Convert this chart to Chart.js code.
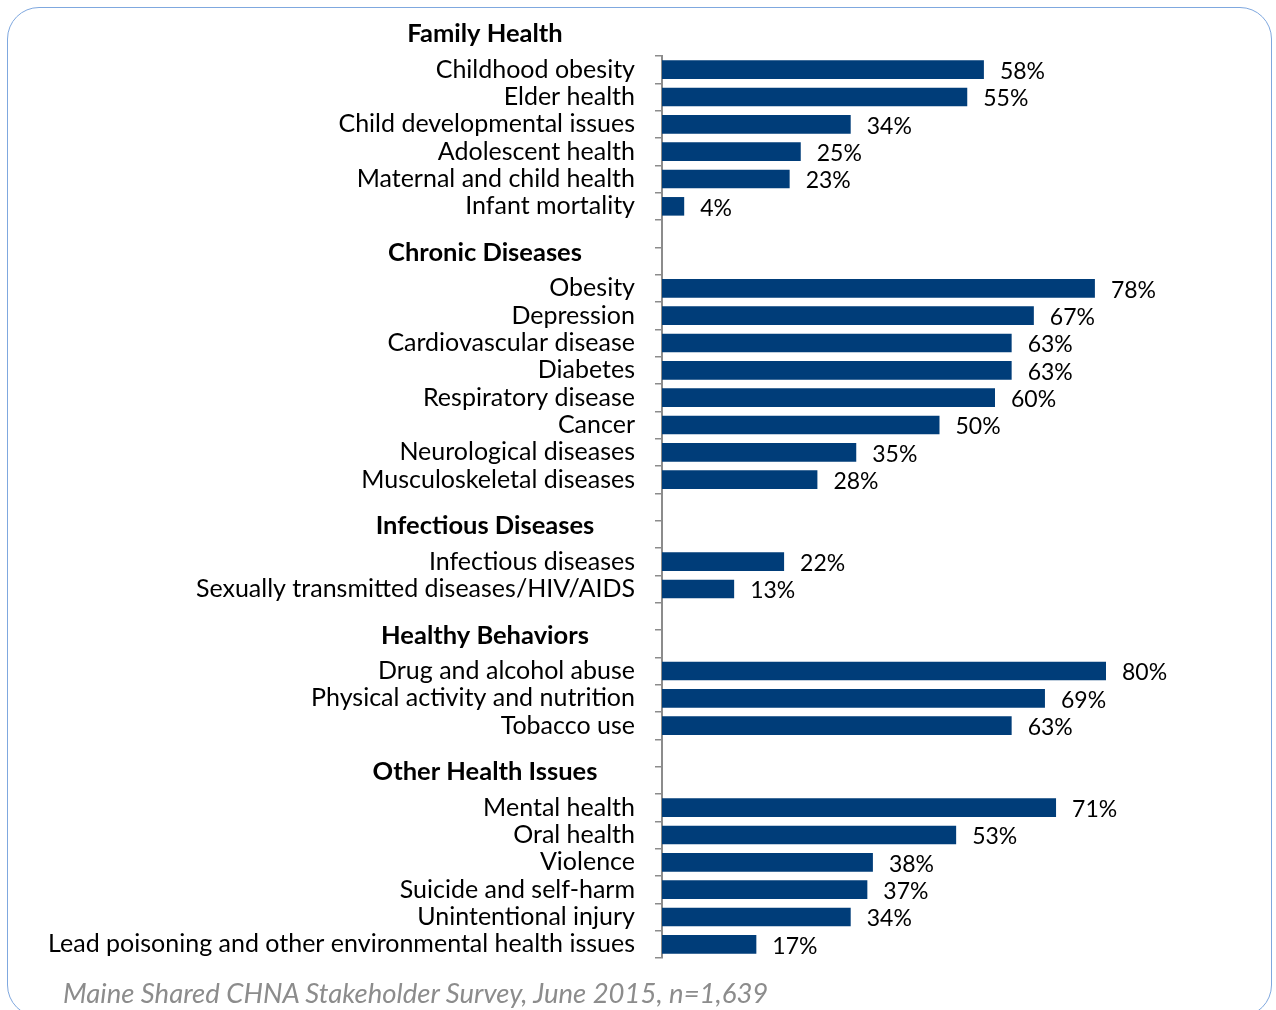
<!DOCTYPE html>
<html>
<head>
<meta charset="utf-8">
<script src="https://cdn.jsdelivr.net/npm/chart.js@4.4.1/dist/chart.umd.min.js"></script>
<style>
  html, body { margin: 0; padding: 0; background: #fff; }
  body { width: 1276px; height: 1010px; position: relative; overflow: hidden; }
  #frame {
    position: absolute; left: 7px; top: 7px; width: 1265px; height: 1010px;
    border: 1.5px solid #7fa8df; border-radius: 32px; box-sizing: border-box;
  }
  #wrap { position: absolute; left: 0; top: 0; width: 1276px; height: 1010px; }
  #source {
    position: absolute; left: 63px; top: 976px;
    font-family: Lato, sans-serif; font-style: italic; font-size: 27.5px; color: #8c8c8c;
    white-space: nowrap;
  }
</style>
</head>
<body>
<div id="frame"></div>
<div id="wrap"><canvas id="myChart" width="1276" height="1010"></canvas></div>
<div id="source">Maine Shared CHNA Stakeholder Survey, June 2015, n=1,639</div>
<script>
const groupNames = ["Family Health", "Chronic Diseases", "Infectious Diseases", "Healthy Behaviors", "Other Health Issues"];

const familyLabels = ["Childhood obesity", "Elder health", "Child developmental issues", "Adolescent health", "Maternal and child health", "Infant mortality"];
const familyValues = [58, 55, 34, 25, 23, 4];

const chronicLabels = ["Obesity", "Depression", "Cardiovascular disease", "Diabetes", "Respiratory disease", "Cancer", "Neurological diseases", "Musculoskeletal diseases"];
const chronicValues = [78, 67, 63, 63, 60, 50, 35, 28];

const infectiousLabels = ["Infectious diseases", "Sexually transmitted diseases/HIV/AIDS"];
const infectiousValues = [22, 13];

const behaviorLabels = ["Drug and alcohol abuse", "Physical activity and nutrition", "Tobacco use"];
const behaviorValues = [80, 69, 63];

const otherLabels = ["Mental health", "Oral health", "Violence", "Suicide and self-harm", "Unintentional injury", "Lead poisoning and other environmental health issues"];
const otherValues = [71, 53, 38, 37, 34, 17];

const groupLabels = [familyLabels, chronicLabels, infectiousLabels, behaviorLabels, otherLabels];
const groupValues = [familyValues, chronicValues, infectiousValues, behaviorValues, otherValues];

// flatten groups, two empty rows between groups for the headings
const labels = [];
const values = [];
const groupStart = [];
groupLabels.forEach((g, i) => {
  if (i > 0) {
    labels.push("", "");
    values.push(null, null);
  }
  groupStart.push(labels.length);
  g.forEach((l, j) => {
    labels.push(l);
    values.push(groupValues[i][j]);
  });
});

const FONT = "Lato, sans-serif";

const annotate = {
  id: "annotate",
  afterDatasetsDraw(chart) {
    const ctx = chart.ctx;
    const meta = chart.getDatasetMeta(0);
    ctx.save();
    ctx.font = "23px " + FONT;
    ctx.fillStyle = "#000";
    ctx.textBaseline = "middle";
    ctx.textAlign = "left";
    meta.data.forEach((bar, i) => {
      if (values[i] == null) return;
      ctx.fillText(values[i] + "%", bar.x + 16, bar.y + 2);
    });
    const y = chart.scales.y;
    const pitch = y.getPixelForValue(1) - y.getPixelForValue(0);
    ctx.font = "bold 25.5px " + FONT;
    ctx.textAlign = "center";
    groupNames.forEach((name, i) => {
      const py = y.getPixelForValue(groupStart[i]) - 1.3 * pitch;
      ctx.fillText(name, y.right - 177, py);
    });
    ctx.restore();
  }
};

const ctx = document.getElementById("myChart").getContext("2d");
const myChart = new Chart(ctx, {
  type: "bar",
  data: {
    labels,
    datasets: [{
      data: values,
      backgroundColor: "#003d79",
      borderWidth: 0,
      barPercentage: 0.68,
      categoryPercentage: 1,
    }],
  },
  options: {
    indexAxis: "y",
    responsive: false,
    animation: false,
    layout: { padding: { left: 0, right: 59, top: 56, bottom: 52 } },
    plugins: { legend: { display: false }, tooltip: { enabled: false } },
    scales: {
      x: { display: false, min: 0, max: 100 },
      y: {
        afterFit(scale) { scale.width = 662; },
        border: { display: true, color: "#8c8c8c", width: 2 },
        grid: { offset: true, drawOnChartArea: false, tickLength: 7, color: "#8c8c8c", lineWidth: 1.5 },
        ticks: { color: "#000", padding: 20, autoSkip: false, font: { family: FONT, size: 25 } },
      },
    },
  },
  plugins: [annotate],
});
</script>
</body>
</html>
